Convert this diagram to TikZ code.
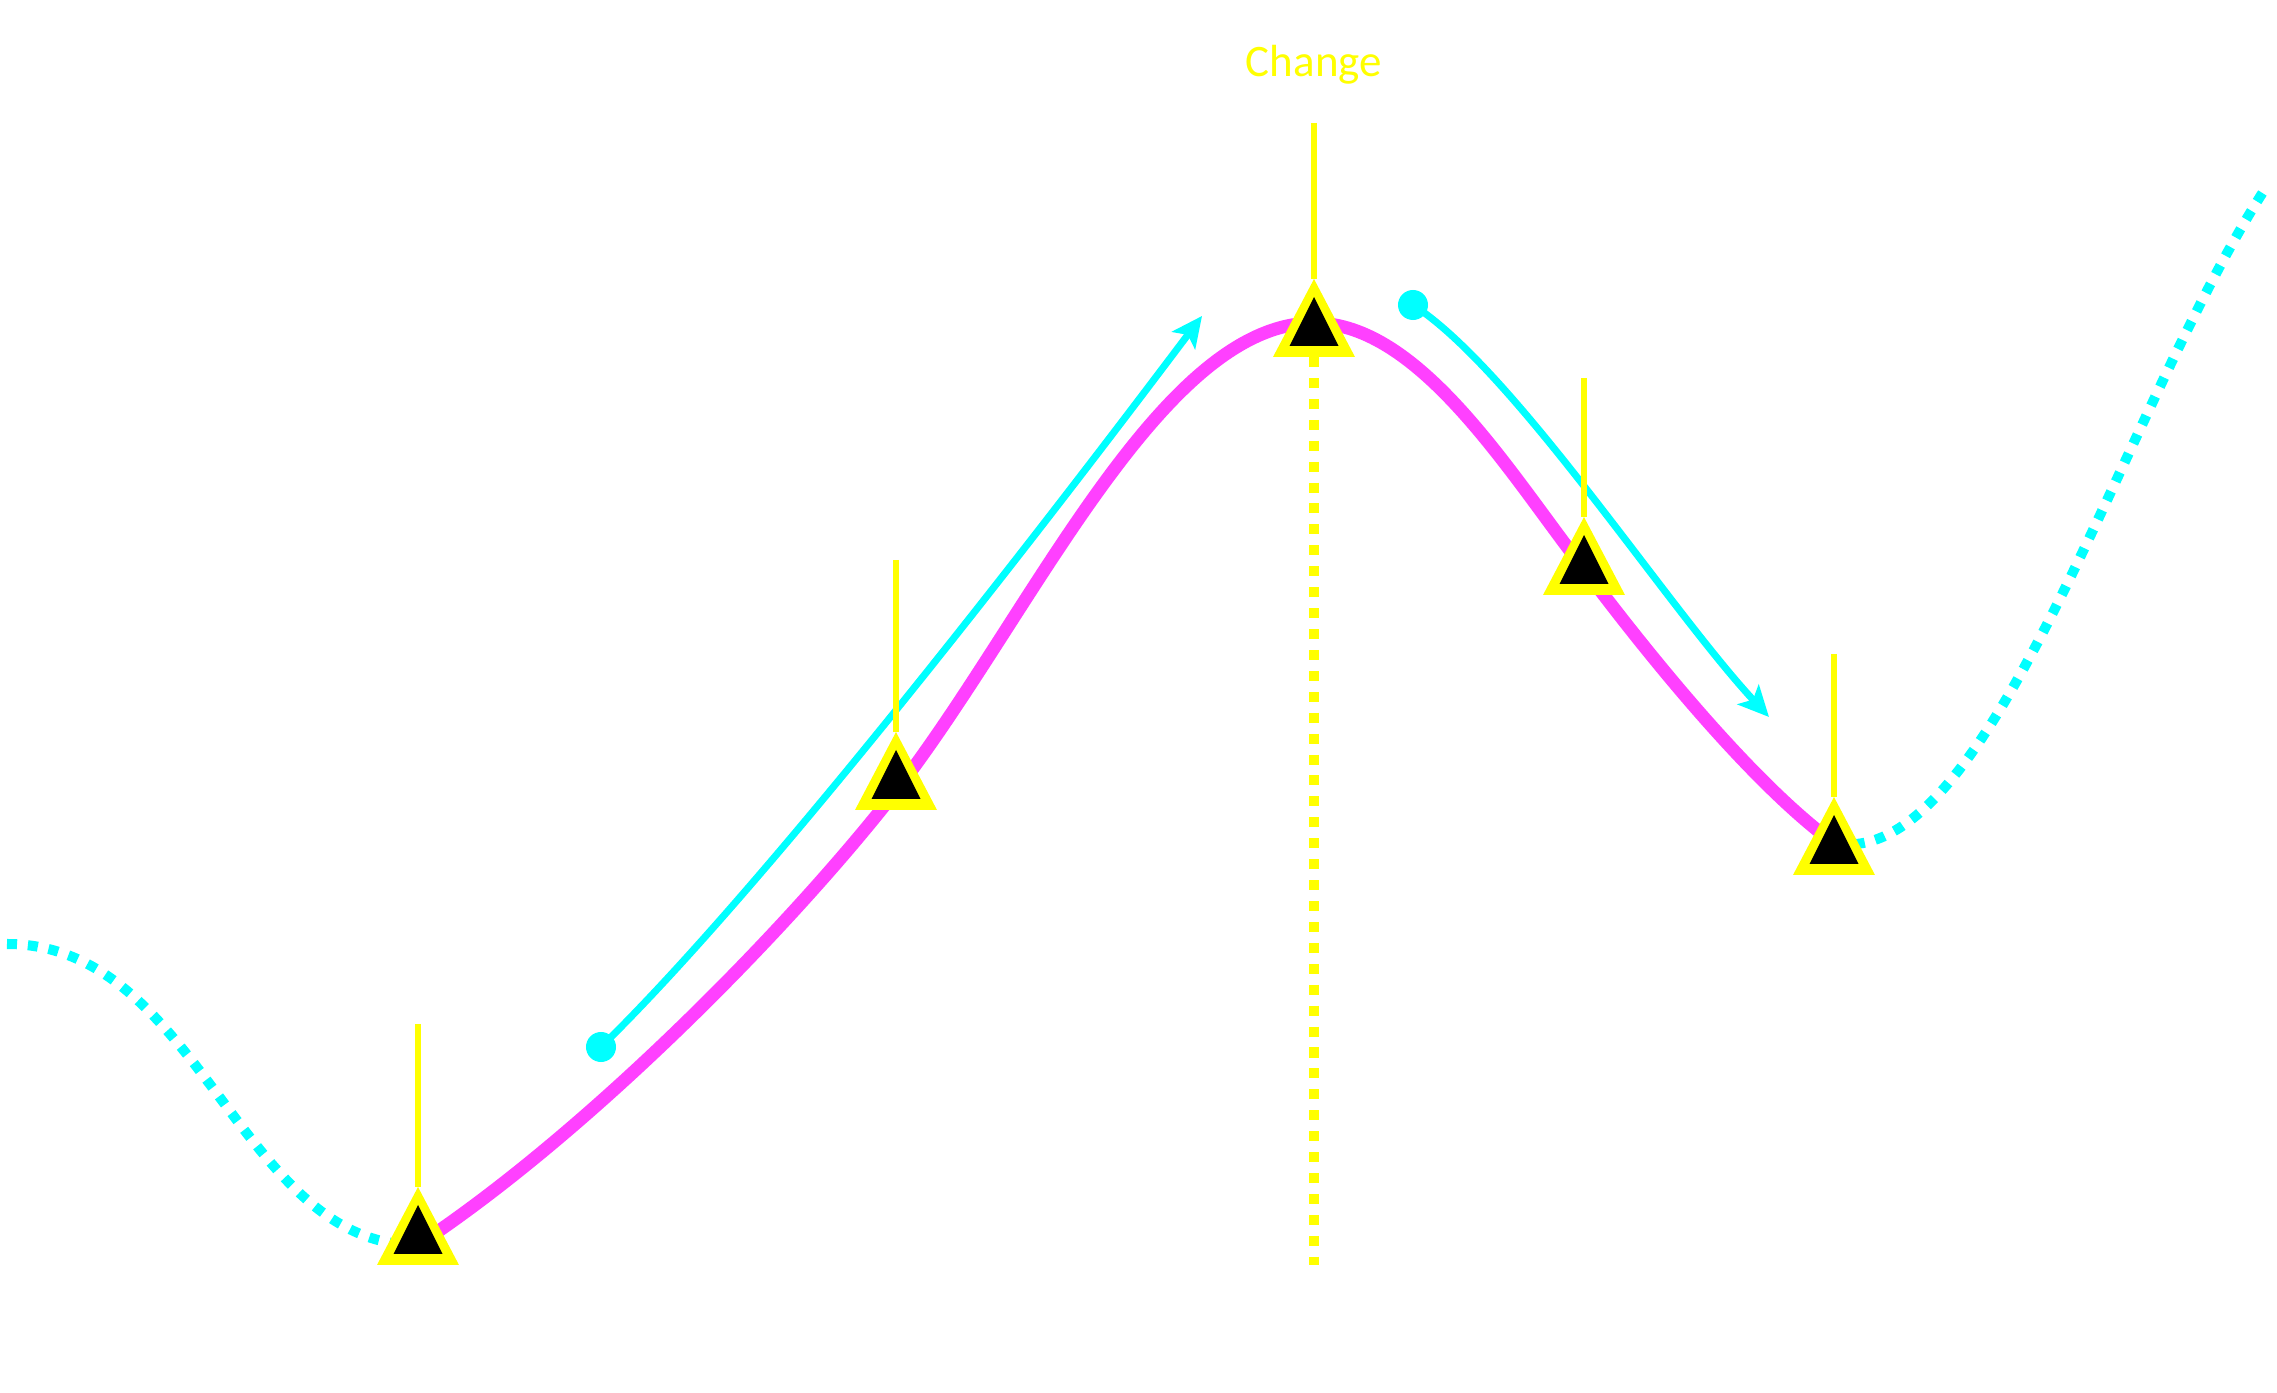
\documentclass[tikz,border=0pt]{standalone}
\usepackage{fontspec}
\newfontfamily\labelfont{Carlito}
\usepackage{tikz}
\usetikzlibrary{arrows.meta}

\definecolor{pathmag}{HTML}{FF40FF}
\definecolor{tcyan}{HTML}{00FFFF}
\definecolor{tyellow}{HTML}{FFFF00}

\tikzset{
  marker/.pic={
    \fill[tyellow] (-41,0) -- (41,0) -- (0,78) -- cycle;
    \fill[black] (-24.5,11) -- (24.5,11) -- (0,60) -- cycle;
    \coordinate (-top) at (0,78);
    \coordinate (-base) at (0,0);
  }
}

\begin{document}
\begin{tikzpicture}[x=0.01cm,y=0.01cm,
    track/.style ={pathmag,line width=3.7pt},
    move/.style  ={tcyan,line width=2pt,-{Stealth[length=8.7pt,width=8.2pt,inset=2pt]}},
    ghost/.style ={tcyan,line width=2.85pt,dash pattern=on 2.85pt off 3.1pt},
    drop/.style  ={tyellow,line width=2.85pt,dash pattern=on 2.85pt off 3.1pt},
    stem/.style  ={tyellow,line width=1.7pt},
    startdot/.style={circle,fill=tcyan,inner sep=0pt,minimum size=0.3cm},
    changelbl/.style={text=tyellow,font=\labelfont\fontsize{12.8}{15}\selectfont,anchor=base,inner sep=0pt},
  ]
  \useasboundingbox (0,0) rectangle (2277,1393);

  % points on the track
  \coordinate (m1) at (418,148);
  \coordinate (m2) at (896,602);
  \coordinate (m3) at (1314,1070);
  \coordinate (m4) at (1584,824);
  \coordinate (m5) at (1834,550);
  \coordinate (lend) at (7,449);
  \coordinate (rend) at (2265,1204);

  % dotted continuation left and right
  \draw[ghost] (lend) .. controls (200,449) and (240,146) .. (m1);
  \draw[ghost] (m5) .. controls (1990,520) and (2120,980) .. (rend);

  % magenta track
  \draw[track] (m1) .. controls (590,262) and (790,466) .. (m2)
     .. controls (1030,775) and (1160,1070) .. (m3)
     .. controls (1420,1070) and (1510,919) .. (m4)
     .. controls (1650,736) and (1753,609) .. (m5);

  % cyan moves
  \node[startdot] (d1) at (601,346) {};
  \node[startdot] (d2) at (1413,1088) {};
  \coordinate (a1) at (1202,1077);
  \coordinate (a2) at (1769,676);
  \draw[move] (d1.center) .. controls (781,522) and (1080,915) .. (a1);
  \draw[move] (d2.center) .. controls (1514,1023) and (1667,786) .. (a2);

  % markers with stems
  \foreach \n/\x/\y/\h in {1/418/128/369, 2/896/583/833, 3/1314/1036/1270,
                           4/1584/798/1015, 5/1834/518/739} {
    \coordinate (h\n) at (\x,\h);
    \draw[stem] (h\n) -- (\x,\y+78);
    \pic (t\n) at (\x,\y) {marker};
  }

  % change line
  \coordinate (dropend) at (1314,128);
  \draw[drop] (t3-base) -- (dropend);
  \node[changelbl] (chg) at (1314,1316) {Change};
\end{tikzpicture}
\end{document}
